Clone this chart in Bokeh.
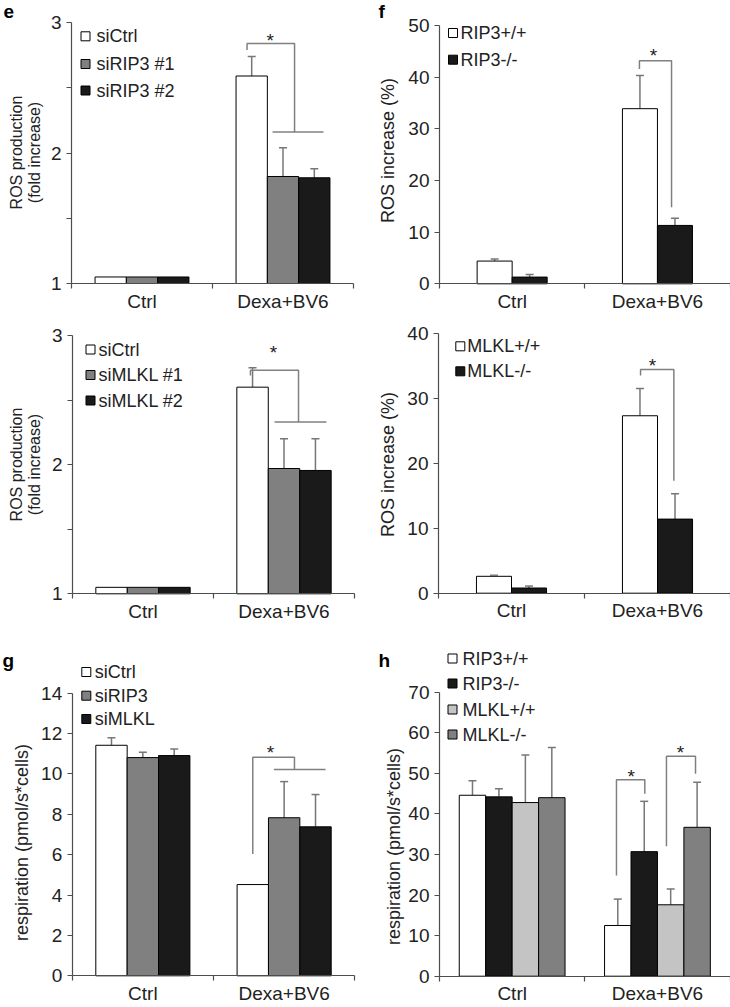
import math
from bokeh.plotting import figure
from bokeh.models import Range1d, FixedTicker
from bokeh.layouts import column, row
from bokeh.embed import file_html
from bokeh.resources import INLINE
from bokeh.core.properties import value

# ---------------- data ----------------
categories = ["Ctrl", "Dexa+BV6"]

e_series = ["siCtrl", "siRIP3 #1", "siRIP3 #2"]
e_vals = [[1.05, 2.59], [1.05, 1.82], [1.05, 1.81]]
e_err = [[0, 0.15], [0, 0.22], [0, 0.07]]

f_series = ["RIP3+/+", "RIP3-/-"]
f_vals = [[4.4, 33.9], [1.3, 11.3]]
f_err = [[0.4, 6.4], [0.5, 1.4]]

e2_series = ["siCtrl", "siMLKL #1", "siMLKL #2"]
e2_vals = [[1.05, 2.60], [1.05, 1.97], [1.05, 1.955]]
e2_err = [[0, 0.15], [0, 0.23], [0, 0.245]]

f2_series = ["MLKL+/+", "MLKL-/-"]
f2_vals = [[2.6, 27.3], [0.8, 11.4]]
f2_err = [[0.15, 4.2], [0.3, 3.9]]

g_series = ["siCtrl", "siRIP3", "siMLKL"]
g_vals = [[11.42, 4.52], [10.81, 7.83], [10.91, 7.38]]
g_err = [[0.37, 0], [0.27, 1.79], [0.33, 1.60]]

h_series = ["RIP3+/+", "RIP3-/-", "MLKL+/+", "MLKL-/-"]
h_vals = [[44.6, 12.5], [44.2, 30.7], [42.8, 17.6], [44.0, 36.7]]
h_err = [[3.6, 6.5], [2.0, 12.4], [11.7, 3.9], [12.4, 11.1]]

# ---------------- style ----------------
FONT = "Liberation Sans"
TXT = "#222222"
AXC = "#4d4d4d"
BRK = "#808080"
ERR = "#777777"
WHITE, GRAY, BLACK, LIGHT = "#ffffff", "#808080", "#1a1a1a", "#c4c4c4"


def panel(W, H, ox, oy, xref, yref):
    (xv0, xp0), (xv1, xp1) = xref
    (yv0, yp0), (yv1, yp1) = yref
    sx = (xv1 - xv0) / (xp1 - xp0)
    x0 = xv0 - (xp0 - ox) * sx
    sy = (yv0 - yv1) / (yp1 - yp0)
    ytop = yv0 + (yp0 - oy) * sy
    p = figure(width=W, height=H, x_range=Range1d(x0, x0 + W * sx),
               y_range=Range1d(ytop - H * sy, ytop), output_backend="svg",
               toolbar_location=None, title=None, min_border=0,
               min_border_left=0, min_border_right=0, min_border_top=0,
               min_border_bottom=0)
    p.outline_line_color = None
    p.grid.visible = False
    p.background_fill_color = "white"

    def X(px):
        return x0 + (px - ox) * sx

    def Y(py):
        return ytop - (py - oy) * sy

    return p, X, Y


def axes(p, base, ymax, yticks, yminor):
    xa = p.xaxis[0]
    xa.fixed_location = base
    xa.bounds = (0, len(categories))
    xa.ticker = FixedTicker(ticks=[i + 0.5 for i in range(len(categories))],
                            minor_ticks=list(range(len(categories) + 1)))
    xa.major_label_overrides = {i + 0.5: c for i, c in enumerate(categories)}
    xa.major_tick_out = 0
    xa.major_tick_in = 0
    xa.minor_tick_out = 5
    xa.minor_tick_in = 0
    xa.major_label_standoff = 2
    ya = p.yaxis[0]
    ya.fixed_location = 0
    ya.bounds = (base, ymax)
    ya.ticker = FixedTicker(ticks=yticks, minor_ticks=yminor)
    ya.major_tick_out = 5
    ya.major_tick_in = 0
    ya.minor_tick_out = 5
    ya.minor_tick_in = 0
    ya.major_label_standoff = 5
    for a in (xa, ya):
        a.axis_line_color = AXC
        a.axis_line_width = 1.2
        a.major_tick_line_color = AXC
        a.minor_tick_line_color = AXC
        a.major_tick_line_width = 1.2
        a.minor_tick_line_width = 1.2
        a.major_label_text_font = FONT
        a.major_label_text_font_size = "19px"
        a.major_label_text_color = TXT


def bars(p, vals, errs, colors, width, base):
    n = len(vals)
    for i in range(n):
        xs = [c + 0.5 + (i - (n - 1) / 2) * width for c in range(len(categories))]
        ex = [x for x, e in zip(xs, errs[i]) if e > 0]
        eb = [v for v, e in zip(vals[i], errs[i]) if e > 0]
        et = [v + e for v, e in zip(vals[i], errs[i]) if e > 0]
        p.segment(x0=ex, y0=eb, x1=ex, y1=et, line_color=ERR, line_width=1.5)
        p.vbar(x=xs, top=vals[i], bottom=base, width=width, fill_color=colors[i],
               line_color="black", line_width=1)
        p.scatter(x=ex, y=et, marker="dash", size=8, line_color=ERR, line_width=1.5)


def legend(p, X, Y, labels, colors, sqx, rows, tx):
    p.scatter(x=[X(sqx)] * len(labels), y=[Y(r) for r in rows], marker="square",
              size=9, fill_color=colors, line_color="black", line_width=1)
    p.text(x=[X(tx)] * len(labels), y=[Y(r) for r in rows], text=labels,
           text_font=value(FONT), text_font_size=value("18px"), text_color=TXT,
           text_align="left", text_baseline="middle")


def ylabel(p, X, Y, lines, xs, yc, size="18px"):
    p.text(x=[X(x) for x in xs], y=[Y(yc)] * len(lines), text=lines, angle=math.pi / 2,
           text_font=value(FONT), text_font_size=value(size), text_color=TXT,
           text_align="center", text_baseline="middle")


def bracket(p, X, Y, paths, stars):
    p.multi_line(xs=[pp[0] for pp in paths], ys=[pp[1] for pp in paths],
                 line_color=BRK, line_width=1.5)
    p.text(x=[s[0] for s in stars], y=[Y(s[1] + 5) for s in stars], text=["*"] * len(stars),
           text_font=value(FONT), text_font_size=value("19px"), text_color=TXT,
           text_align="center", text_baseline="middle")


def letter(p, X, Y, t, px, py):
    p.text(x=[X(px)], y=[Y(py)], text=[t], text_font=value(FONT),
           text_font_size=value("19px"), text_font_style="bold", text_color="black",
           text_align="left", text_baseline="middle")


# ---------------- panel e ----------------
pe, X, Y = panel(365, 320, 0, 0, ((0, 71), (1, 212)), ((3, 22), (1, 283)))
axes(pe, 1, 3, [1, 2, 3], [1.5, 2.5])
bars(pe, e_vals, e_err, [WHITE, GRAY, BLACK], 0.222, 1)
legend(pe, X, Y, e_series, [WHITE, GRAY, BLACK], 85, [35.8, 63.5, 90], 96)
ylabel(pe, X, Y, ["ROS production", "(fold increase)"], [16, 33.5], 152, "16px")
bracket(pe, X, Y, [([1.245, 1.245, 1.582, 1.582], [2.79, 2.84, 2.84, 2.16]),
                   ([1.426, 1.787], [2.16, 2.16])], [(1.41, 35)])
letter(pe, X, Y, "e", 3, 11)

# ---------------- panel f ----------------
pf, X, Y = panel(365, 320, 365, 0, ((0, 439), (1, 584.3)), ((50, 25), (0, 283.3)))
axes(pf, 0, 50, [0, 10, 20, 30, 40, 50], [])
bars(pf, f_vals, f_err, [WHITE, BLACK], 0.241, 0)
legend(pf, X, Y, f_series, [WHITE, BLACK], 452.5, [32.5, 59.2], 460)
ylabel(pf, X, Y, ["ROS increase (%)"], [387.5], 150)
bracket(pf, X, Y, [([1.376, 1.376, 1.597, 1.597], [41.6, 43.2, 43.2, 14.8])], [(1.473, 50)])
letter(pf, X, Y, "f", 378, 11)

# ---------------- panel e (MLKL) ----------------
pe2, X, Y = panel(365, 330, 0, 320, ((0, 72), (1, 213)), ((3, 335), (1, 593.3)))
axes(pe2, 1, 3, [1, 2, 3], [1.5, 2.5])
bars(pe2, e2_vals, e2_err, [WHITE, GRAY, BLACK], 0.223, 1)
legend(pe2, X, Y, e2_series, [WHITE, GRAY, BLACK], 90, [349, 374.5, 400], 98)
ylabel(pe2, X, Y, ["ROS production", "(fold increase)"], [16, 33.5], 464, "16px")
bracket(pe2, X, Y, [([1.262, 1.262, 1.603, 1.603], [2.69, 2.73, 2.73, 2.33]),
                    ([1.433, 1.801], [2.33, 2.33])], [(1.426, 347)])

# ---------------- panel f (MLKL) ----------------
pf2, X, Y = panel(365, 330, 365, 320, ((0, 438), (1, 584)), ((40, 332.7), (0, 592.7)))
axes(pf2, 0, 40, [0, 10, 20, 30, 40], [])
bars(pf2, f2_vals, f2_err, [WHITE, BLACK], 0.24, 0)
legend(pf2, X, Y, f2_series, [WHITE, BLACK], 459.8, [345.8, 370.8], 466.7)
ylabel(pf2, X, Y, ["ROS increase (%)"], [387.5], 464)
bracket(pf2, X, Y, [([1.384, 1.384, 1.612, 1.612], [33.5, 34.4, 34.4, 17.3])], [(1.466, 360)])

# ---------------- panel g ----------------
pg, X, Y = panel(365, 357, 0, 650, ((0, 71.7), (1, 213)), ((14, 692.7), (0, 975.3)))
axes(pg, 0, 14, [0, 2, 4, 6, 8, 10, 12, 14], [])
bars(pg, g_vals, g_err, [WHITE, GRAY, BLACK], 0.222, 0)
legend(pg, X, Y, g_series, [WHITE, GRAY, BLACK], 85.8, [671.5, 695.2, 718.5], 94.3)
ylabel(pg, X, Y, ["respiration (pmol/s*cells)"], [21.7], 842)
bracket(pg, X, Y, [([1.278, 1.278, 1.573, 1.573], [6.04, 10.83, 10.83, 10.22]),
                   ([1.427, 1.793], [10.22, 10.22])], [(1.403, 746.7)])
letter(pg, X, Y, "g", 2, 660)

# ---------------- panel h ----------------
ph, X, Y = panel(365, 357, 365, 650, ((0, 439), (1, 584.3)), ((70, 691.7), (0, 975.7)))
axes(ph, 0, 70, [0, 10, 20, 30, 40, 50, 60, 70], [])
bars(ph, h_vals, h_err, [WHITE, BLACK, LIGHT, GRAY], 0.182, 0)
legend(ph, X, Y, h_series, [WHITE, BLACK, LIGHT, GRAY], 452, [658, 683, 709, 734], 462)
ylabel(ph, X, Y, ["respiration (pmol/s*cells)"], [393], 846)
bracket(ph, X, Y, [([1.218, 1.218, 1.413, 1.413], [24.8, 48.4, 48.4, 45.0]),
                   ([1.562, 1.562, 1.762, 1.762], [32.0, 54.2, 54.2, 49.9])],
        [(1.319, 770.7), (1.659, 746.7)])
letter(ph, X, Y, "h", 378, 660)

layout = column(row(pe, pf), row(pe2, pf2), row(pg, ph))
open("out.html", "w").write(file_html(layout, INLINE))
